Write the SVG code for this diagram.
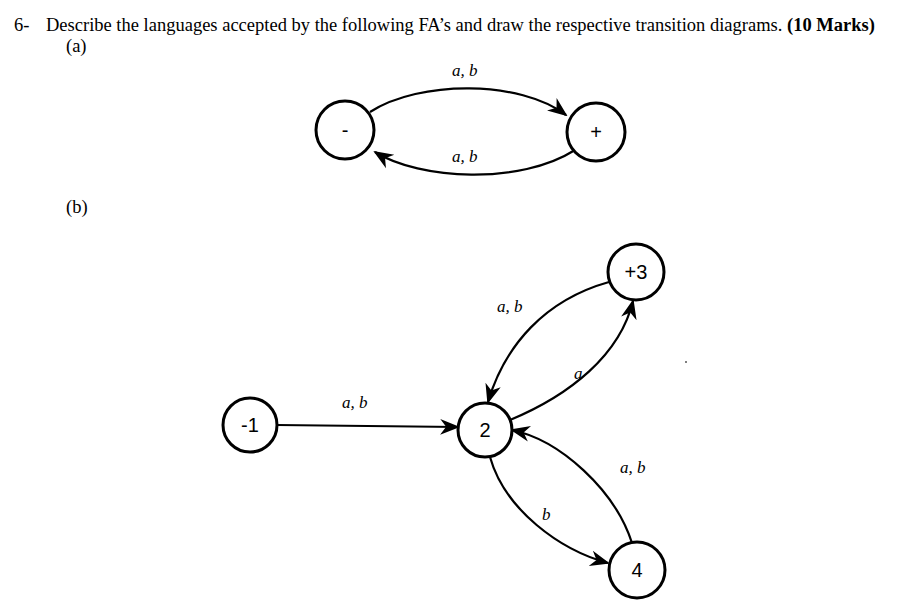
<svg xmlns="http://www.w3.org/2000/svg" width="903" height="612" viewBox="0 0 903 612">
<defs><marker id="ar" viewBox="0 0 10 10" refX="9" refY="5" markerWidth="9" markerHeight="9" orient="auto"><path d="M0,1 L10,5 L0,9 L3,5 z" fill="#000"/></marker></defs>
<style>
.s{fill:#fff;stroke:#000;stroke-width:3}
.e{fill:none;stroke:#000;stroke-width:2.2;marker-end:url(#ar)}
.l{font-family:"Liberation Serif",serif;font-style:italic;font-size:17px}
.n{font-family:"Liberation Sans",sans-serif;font-size:20px;text-anchor:middle}
.t{font-family:"Liberation Serif",serif;font-size:18.5px}
</style>
<rect width="903" height="612" fill="#fff"/>
<text class="t" x="14" y="31">6-</text>
<text class="t" x="46" y="31">Describe the languages accepted by the following FA’s and draw the respective transition diagrams. <tspan font-weight="bold">(10 Marks)</tspan></text>
<text class="t" x="66" y="52">(a)</text>
<text class="t" x="66" y="213">(b)</text>
<g id="edges">
<path class="e" d="M370,112 C420,80 520,80 566,115"/>
<path class="e" d="M575,150 C520,185 420,180 375,152"/>
<path class="e" d="M277,425 L458,427"/>
<path class="e" d="M609,282 C545,300 505,345 488,402"/>
<path class="e" d="M510,420 C570,395 620,355 633,301"/>
<path class="e" d="M632,543 C615,490 560,440 512,430"/>
<path class="e" d="M490,457 C505,510 560,550 608,563"/>
</g>
<text class="l" x="452" y="76">a, b</text>
<text class="l" x="452" y="162">a, b</text>
<text class="l" x="342" y="408">a, b</text>
<text class="l" x="497" y="312">a, b</text>
<text class="l" x="574" y="379" font-size="14">a</text>
<text class="l" x="620" y="473">a, b</text>
<text class="l" x="542" y="520">b</text>
<g id="n1"><circle class="s" cx="345" cy="130" r="29"/><text class="n" x="345" y="137">-</text></g>
<g id="n2"><circle class="s" cx="596" cy="132" r="29"/><text class="n" x="596" y="139">+</text></g>
<g id="b1"><circle class="s" cx="250" cy="425" r="27"/><text class="n" x="250" y="432">-1</text></g>
<g id="b2"><circle class="s" cx="485" cy="430" r="27"/><text class="n" x="485" y="437">2</text></g>
<g id="b3"><circle class="s" cx="636" cy="272" r="28"/><text class="n" x="636" y="279">+3</text></g>
<g id="b4"><circle class="s" cx="637" cy="570" r="28"/><text class="n" x="637" y="577">4</text></g>
<circle cx="686" cy="362" r="1" fill="#555"/>
</svg>
